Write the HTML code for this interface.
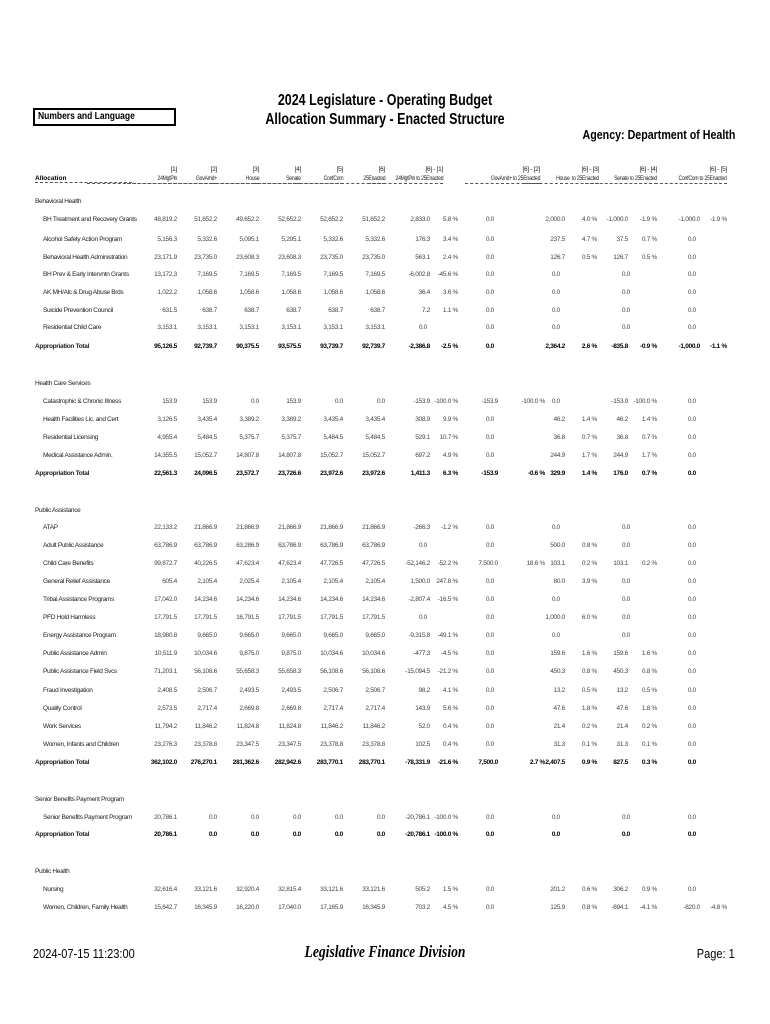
<!DOCTYPE html>
<html><head><meta charset="utf-8"><style>
*{margin:0;padding:0;box-sizing:border-box}
body{width:770px;height:1024px;background:#fff;position:relative;font-family:"Liberation Sans",sans-serif;color:#000;overflow:hidden}
.t{position:absolute;white-space:nowrap}
.ttl{position:absolute;left:0;width:770px;text-align:center;font-weight:bold;font-size:16px;transform:scaleX(.78);}
.r{position:absolute;left:0;width:770px;height:10px;font-size:6.5px;letter-spacing:-.3px;color:#444}
.r span{position:absolute;width:70px;text-align:right;top:0}
.r .n{left:43px;width:auto;text-align:left;color:#222}
.b{font-weight:bold;color:#000!important}
.b span{color:#000}
.b .n{left:35px}
.a1{left:107px}.a2{left:147px}.a3{left:189px}.a4{left:231px}.a5{left:273px}.a6{left:315px}
.d1{left:360px}.z1{left:357px}.p1{left:388px}
.d2{left:428px}.z2{left:424px}.p2{left:475px}
.d3{left:495px}.z3{left:490px}.p3{left:527px}
.d4{left:558px}.z4{left:560px}.p4{left:587px}
.d5{left:630px}.z5{left:626px}.p5{left:657px}
.sec{position:absolute;left:35px;font-size:6.5px;letter-spacing:-.3px;color:#222}
.h{position:absolute;font-size:6.5px;letter-spacing:-.3px;text-align:right;width:90px;color:#222;line-height:9px}
.h b{font-weight:normal;display:inline-block;transform:scaleX(.78);transform-origin:right}
.h i{display:block;font-style:normal;border-bottom:1px dashed #555;white-space:nowrap}
</style></head><body>
<div class="ttl" style="top:92px">2024 Legislature - Operating Budget</div>
<div class="ttl" style="top:111px">Allocation Summary - Enacted Structure</div>
<div class="t" style="left:33px;top:108px;width:143px;height:18px;border:2px solid #000;font-size:10px;font-weight:bold;padding:1px 3px;"><span style="display:inline-block;transform:scaleX(.85);transform-origin:left">Numbers and Language</span></div>
<div class="t" style="right:35px;top:127px;font-size:13px;font-weight:bold;transform:scaleX(.82);transform-origin:right">Agency: Department of Health</div>

<div class="t" style="left:35px;top:175px;width:97px;font-size:6.5px;font-weight:bold;border-bottom:1px dashed #555">Allocation</div>
<div class="h" style="left:87px;top:165px">[1]<i><b>24MgtPln</b></i></div>
<div class="h" style="left:127px;top:165px">[2]<i><b>GovAmd+</b></i></div>
<div class="h" style="left:169px;top:165px">[3]<i><b>House</b></i></div>
<div class="h" style="left:211px;top:165px">[4]<i><b>Senate</b></i></div>
<div class="h" style="left:253px;top:165px">[5]<i><b>ConfCom</b></i></div>
<div class="h" style="left:295px;top:165px">[6]<i><b>25Enacted</b></i></div>
<div class="h" style="left:368px;top:165px;width:75px">[6] - [1]<i><b>24MgtPln to 25Enacted</b></i></div>
<div class="h" style="left:465px;top:165px;width:75px">[6] - [2]<i><b>GovAmd+ to 25Enacted</b></i></div>
<div class="h" style="left:524px;top:165px;width:75px">[6] - [3]<i><b>House&nbsp; to 25Enacted</b></i></div>
<div class="h" style="left:585px;top:165px;width:72px">[6] - [4]<i><b>Senate to 25Enacted</b></i></div>
<div class="h" style="left:655px;top:165px;width:72px">[6] - [5]<i><b>ConfCom to 25Enacted</b></i></div>

<div class="sec" style="top:198px">Behavioral Health</div>
<div class="r" style="top:216px"><span class="n">BH Treatment and Recovery Grants</span><span class="a1">48,819.2</span><span class="a2">51,652.2</span><span class="a3">49,652.2</span><span class="a4">52,652.2</span><span class="a5">52,652.2</span><span class="a6">51,652.2</span><span class="d1">2,833.0</span><span class="p1">5.8 %</span><span class="z2">0.0</span><span class="d3">2,000.0</span><span class="p3">4.0 %</span><span class="d4">-1,000.0</span><span class="p4">-1.9 %</span><span class="d5">-1,000.0</span><span class="p5">-1.9 %</span></div>
<div class="r" style="top:236px"><span class="n">Alcohol Safety Action Program</span><span class="a1">5,156.3</span><span class="a2">5,332.6</span><span class="a3">5,095.1</span><span class="a4">5,295.1</span><span class="a5">5,332.6</span><span class="a6">5,332.6</span><span class="d1">176.3</span><span class="p1">3.4 %</span><span class="z2">0.0</span><span class="d3">237.5</span><span class="p3">4.7 %</span><span class="d4">37.5</span><span class="p4">0.7 %</span><span class="z5">0.0</span></div>
<div class="r" style="top:254px"><span class="n">Behavioral Health Administration</span><span class="a1">23,171.9</span><span class="a2">23,735.0</span><span class="a3">23,608.3</span><span class="a4">23,608.3</span><span class="a5">23,735.0</span><span class="a6">23,735.0</span><span class="d1">563.1</span><span class="p1">2.4 %</span><span class="z2">0.0</span><span class="d3">126.7</span><span class="p3">0.5 %</span><span class="d4">126.7</span><span class="p4">0.5 %</span><span class="z5">0.0</span></div>
<div class="r" style="top:271px"><span class="n">BH Prev &amp; Early Intervntn Grants</span><span class="a1">13,172.3</span><span class="a2">7,169.5</span><span class="a3">7,169.5</span><span class="a4">7,169.5</span><span class="a5">7,169.5</span><span class="a6">7,169.5</span><span class="d1">-6,002.8</span><span class="p1">-45.6 %</span><span class="z2">0.0</span><span class="z3">0.0</span><span class="z4">0.0</span><span class="z5">0.0</span></div>
<div class="r" style="top:289px"><span class="n">AK MH/Alc &amp; Drug Abuse Brds</span><span class="a1">1,022.2</span><span class="a2">1,058.6</span><span class="a3">1,058.6</span><span class="a4">1,058.6</span><span class="a5">1,058.6</span><span class="a6">1,058.6</span><span class="d1">36.4</span><span class="p1">3.6 %</span><span class="z2">0.0</span><span class="z3">0.0</span><span class="z4">0.0</span><span class="z5">0.0</span></div>
<div class="r" style="top:307px"><span class="n">Suicide Prevention Council</span><span class="a1">631.5</span><span class="a2">638.7</span><span class="a3">638.7</span><span class="a4">638.7</span><span class="a5">638.7</span><span class="a6">638.7</span><span class="d1">7.2</span><span class="p1">1.1 %</span><span class="z2">0.0</span><span class="z3">0.0</span><span class="z4">0.0</span><span class="z5">0.0</span></div>
<div class="r" style="top:324px"><span class="n">Residential Child Care</span><span class="a1">3,153.1</span><span class="a2">3,153.1</span><span class="a3">3,153.1</span><span class="a4">3,153.1</span><span class="a5">3,153.1</span><span class="a6">3,153.1</span><span class="z1">0.0</span><span class="z2">0.0</span><span class="z3">0.0</span><span class="z4">0.0</span><span class="z5">0.0</span></div>
<div class="r b" style="top:343px"><span class="n">Appropriation Total</span><span class="a1">95,126.5</span><span class="a2">92,739.7</span><span class="a3">90,375.5</span><span class="a4">93,575.5</span><span class="a5">93,739.7</span><span class="a6">92,739.7</span><span class="d1">-2,386.8</span><span class="p1">-2.5 %</span><span class="z2">0.0</span><span class="d3">2,364.2</span><span class="p3">2.6 %</span><span class="d4">-835.8</span><span class="p4">-0.9 %</span><span class="d5">-1,000.0</span><span class="p5">-1.1 %</span></div>

<div class="sec" style="top:380px">Health Care Services</div>
<div class="r" style="top:398px"><span class="n">Catastrophic &amp; Chronic Illness</span><span class="a1">153.9</span><span class="a2">153.9</span><span class="a3">0.0</span><span class="a4">153.9</span><span class="a5">0.0</span><span class="a6">0.0</span><span class="d1">-153.9</span><span class="p1">-100.0 %</span><span class="d2">-153.9</span><span class="p2">-100.0 %</span><span class="z3">0.0</span><span class="d4">-153.9</span><span class="p4">-100.0 %</span><span class="z5">0.0</span></div>
<div class="r" style="top:416px"><span class="n">Health Facilities Lic. and Cert</span><span class="a1">3,126.5</span><span class="a2">3,435.4</span><span class="a3">3,389.2</span><span class="a4">3,389.2</span><span class="a5">3,435.4</span><span class="a6">3,435.4</span><span class="d1">308.9</span><span class="p1">9.9 %</span><span class="z2">0.0</span><span class="d3">46.2</span><span class="p3">1.4 %</span><span class="d4">46.2</span><span class="p4">1.4 %</span><span class="z5">0.0</span></div>
<div class="r" style="top:434px"><span class="n">Residential Licensing</span><span class="a1">4,955.4</span><span class="a2">5,484.5</span><span class="a3">5,375.7</span><span class="a4">5,375.7</span><span class="a5">5,484.5</span><span class="a6">5,484.5</span><span class="d1">529.1</span><span class="p1">10.7 %</span><span class="z2">0.0</span><span class="d3">36.8</span><span class="p3">0.7 %</span><span class="d4">36.8</span><span class="p4">0.7 %</span><span class="z5">0.0</span></div>
<div class="r" style="top:452px"><span class="n">Medical Assistance Admin.</span><span class="a1">14,355.5</span><span class="a2">15,052.7</span><span class="a3">14,807.8</span><span class="a4">14,807.8</span><span class="a5">15,052.7</span><span class="a6">15,052.7</span><span class="d1">697.2</span><span class="p1">4.9 %</span><span class="z2">0.0</span><span class="d3">244.9</span><span class="p3">1.7 %</span><span class="d4">244.9</span><span class="p4">1.7 %</span><span class="z5">0.0</span></div>
<div class="r b" style="top:470px"><span class="n">Appropriation Total</span><span class="a1">22,561.3</span><span class="a2">24,096.5</span><span class="a3">23,572.7</span><span class="a4">23,726.6</span><span class="a5">23,972.6</span><span class="a6">23,972.6</span><span class="d1">1,411.3</span><span class="p1">6.3 %</span><span class="d2">-153.9</span><span class="p2">-0.6 %</span><span class="d3">329.9</span><span class="p3">1.4 %</span><span class="d4">176.0</span><span class="p4">0.7 %</span><span class="z5">0.0</span></div>

<div class="sec" style="top:507px">Public Assistance</div>
<div class="r" style="top:524px"><span class="n">ATAP</span><span class="a1">22,133.2</span><span class="a2">21,866.9</span><span class="a3">21,866.9</span><span class="a4">21,866.9</span><span class="a5">21,866.9</span><span class="a6">21,866.9</span><span class="d1">-266.3</span><span class="p1">-1.2 %</span><span class="z2">0.0</span><span class="z3">0.0</span><span class="z4">0.0</span><span class="z5">0.0</span></div>
<div class="r" style="top:542px"><span class="n">Adult Public Assistance</span><span class="a1">63,786.9</span><span class="a2">63,786.9</span><span class="a3">63,286.9</span><span class="a4">63,786.9</span><span class="a5">63,786.9</span><span class="a6">63,786.9</span><span class="z1">0.0</span><span class="z2">0.0</span><span class="d3">500.0</span><span class="p3">0.8 %</span><span class="z4">0.0</span><span class="z5">0.0</span></div>
<div class="r" style="top:560px"><span class="n">Child Care Benefits</span><span class="a1">99,872.7</span><span class="a2">40,226.5</span><span class="a3">47,623.4</span><span class="a4">47,623.4</span><span class="a5">47,726.5</span><span class="a6">47,726.5</span><span class="d1">-52,146.2</span><span class="p1">-52.2 %</span><span class="d2">7,500.0</span><span class="p2">18.6 %</span><span class="d3">103.1</span><span class="p3">0.2 %</span><span class="d4">103.1</span><span class="p4">0.2 %</span><span class="z5">0.0</span></div>
<div class="r" style="top:578px"><span class="n">General Relief Assistance</span><span class="a1">605.4</span><span class="a2">2,105.4</span><span class="a3">2,025.4</span><span class="a4">2,105.4</span><span class="a5">2,105.4</span><span class="a6">2,105.4</span><span class="d1">1,500.0</span><span class="p1">247.8 %</span><span class="z2">0.0</span><span class="d3">80.0</span><span class="p3">3.9 %</span><span class="z4">0.0</span><span class="z5">0.0</span></div>
<div class="r" style="top:596px"><span class="n">Tribal Assistance Programs</span><span class="a1">17,042.0</span><span class="a2">14,234.6</span><span class="a3">14,234.6</span><span class="a4">14,234.6</span><span class="a5">14,234.6</span><span class="a6">14,234.6</span><span class="d1">-2,807.4</span><span class="p1">-16.5 %</span><span class="z2">0.0</span><span class="z3">0.0</span><span class="z4">0.0</span><span class="z5">0.0</span></div>
<div class="r" style="top:614px"><span class="n">PFD Hold Harmless</span><span class="a1">17,791.5</span><span class="a2">17,791.5</span><span class="a3">16,791.5</span><span class="a4">17,791.5</span><span class="a5">17,791.5</span><span class="a6">17,791.5</span><span class="z1">0.0</span><span class="z2">0.0</span><span class="d3">1,000.0</span><span class="p3">6.0 %</span><span class="z4">0.0</span><span class="z5">0.0</span></div>
<div class="r" style="top:632px"><span class="n">Energy Assistance Program</span><span class="a1">18,980.8</span><span class="a2">9,665.0</span><span class="a3">9,665.0</span><span class="a4">9,665.0</span><span class="a5">9,665.0</span><span class="a6">9,665.0</span><span class="d1">-9,315.8</span><span class="p1">-49.1 %</span><span class="z2">0.0</span><span class="z3">0.0</span><span class="z4">0.0</span><span class="z5">0.0</span></div>
<div class="r" style="top:650px"><span class="n">Public Assistance Admin</span><span class="a1">10,511.9</span><span class="a2">10,034.6</span><span class="a3">9,875.0</span><span class="a4">9,875.0</span><span class="a5">10,034.6</span><span class="a6">10,034.6</span><span class="d1">-477.3</span><span class="p1">-4.5 %</span><span class="z2">0.0</span><span class="d3">159.6</span><span class="p3">1.6 %</span><span class="d4">159.6</span><span class="p4">1.6 %</span><span class="z5">0.0</span></div>
<div class="r" style="top:668px"><span class="n">Public Assistance Field Svcs</span><span class="a1">71,203.1</span><span class="a2">56,108.6</span><span class="a3">55,658.3</span><span class="a4">55,658.3</span><span class="a5">56,108.6</span><span class="a6">56,108.6</span><span class="d1">-15,094.5</span><span class="p1">-21.2 %</span><span class="z2">0.0</span><span class="d3">450.3</span><span class="p3">0.8 %</span><span class="d4">450.3</span><span class="p4">0.8 %</span><span class="z5">0.0</span></div>
<div class="r" style="top:687px"><span class="n">Fraud Investigation</span><span class="a1">2,408.5</span><span class="a2">2,506.7</span><span class="a3">2,493.5</span><span class="a4">2,493.5</span><span class="a5">2,506.7</span><span class="a6">2,506.7</span><span class="d1">98.2</span><span class="p1">4.1 %</span><span class="z2">0.0</span><span class="d3">13.2</span><span class="p3">0.5 %</span><span class="d4">13.2</span><span class="p4">0.5 %</span><span class="z5">0.0</span></div>
<div class="r" style="top:705px"><span class="n">Quality Control</span><span class="a1">2,573.5</span><span class="a2">2,717.4</span><span class="a3">2,669.8</span><span class="a4">2,669.8</span><span class="a5">2,717.4</span><span class="a6">2,717.4</span><span class="d1">143.9</span><span class="p1">5.6 %</span><span class="z2">0.0</span><span class="d3">47.6</span><span class="p3">1.8 %</span><span class="d4">47.6</span><span class="p4">1.8 %</span><span class="z5">0.0</span></div>
<div class="r" style="top:723px"><span class="n">Work Services</span><span class="a1">11,794.2</span><span class="a2">11,846.2</span><span class="a3">11,824.8</span><span class="a4">11,824.8</span><span class="a5">11,846.2</span><span class="a6">11,846.2</span><span class="d1">52.0</span><span class="p1">0.4 %</span><span class="z2">0.0</span><span class="d3">21.4</span><span class="p3">0.2 %</span><span class="d4">21.4</span><span class="p4">0.2 %</span><span class="z5">0.0</span></div>
<div class="r" style="top:741px"><span class="n">Women, Infants and Children</span><span class="a1">23,276.3</span><span class="a2">23,378.8</span><span class="a3">23,347.5</span><span class="a4">23,347.5</span><span class="a5">23,378.8</span><span class="a6">23,378.8</span><span class="d1">102.5</span><span class="p1">0.4 %</span><span class="z2">0.0</span><span class="d3">31.3</span><span class="p3">0.1 %</span><span class="d4">31.3</span><span class="p4">0.1 %</span><span class="z5">0.0</span></div>
<div class="r b" style="top:759px"><span class="n">Appropriation Total</span><span class="a1">362,102.0</span><span class="a2">276,270.1</span><span class="a3">281,362.6</span><span class="a4">282,942.6</span><span class="a5">283,770.1</span><span class="a6">283,770.1</span><span class="d1">-78,331.9</span><span class="p1">-21.6 %</span><span class="d2">7,500.0</span><span class="p2">2.7 %</span><span class="d3">2,407.5</span><span class="p3">0.9 %</span><span class="d4">827.5</span><span class="p4">0.3 %</span><span class="z5">0.0</span></div>

<div class="sec" style="top:796px">Senior Benefits Payment Program</div>
<div class="r" style="top:814px"><span class="n">Senior Benefits Payment Program</span><span class="a1">20,786.1</span><span class="a2">0.0</span><span class="a3">0.0</span><span class="a4">0.0</span><span class="a5">0.0</span><span class="a6">0.0</span><span class="d1">-20,786.1</span><span class="p1">-100.0 %</span><span class="z2">0.0</span><span class="z3">0.0</span><span class="z4">0.0</span><span class="z5">0.0</span></div>
<div class="r b" style="top:831px"><span class="n">Appropriation Total</span><span class="a1">20,786.1</span><span class="a2">0.0</span><span class="a3">0.0</span><span class="a4">0.0</span><span class="a5">0.0</span><span class="a6">0.0</span><span class="d1">-20,786.1</span><span class="p1">-100.0 %</span><span class="z2">0.0</span><span class="z3">0.0</span><span class="z4">0.0</span><span class="z5">0.0</span></div>

<div class="sec" style="top:868px">Public Health</div>
<div class="r" style="top:886px"><span class="n">Nursing</span><span class="a1">32,616.4</span><span class="a2">33,121.6</span><span class="a3">32,920.4</span><span class="a4">32,815.4</span><span class="a5">33,121.6</span><span class="a6">33,121.6</span><span class="d1">505.2</span><span class="p1">1.5 %</span><span class="z2">0.0</span><span class="d3">201.2</span><span class="p3">0.6 %</span><span class="d4">306.2</span><span class="p4">0.9 %</span><span class="z5">0.0</span></div>
<div class="r" style="top:904px"><span class="n">Women, Children, Family Health</span><span class="a1">15,642.7</span><span class="a2">16,345.9</span><span class="a3">16,220.0</span><span class="a4">17,040.0</span><span class="a5">17,165.9</span><span class="a6">16,345.9</span><span class="d1">703.2</span><span class="p1">4.5 %</span><span class="z2">0.0</span><span class="d3">125.9</span><span class="p3">0.8 %</span><span class="d4">-694.1</span><span class="p4">-4.1 %</span><span class="d5">-820.0</span><span class="p5">-4.8 %</span></div>

<div class="t" style="left:33px;top:946px;font-size:13px;transform:scaleX(.85);transform-origin:left">2024-07-15 11:23:00</div>
<div class="t" style="left:0;width:770px;text-align:center;top:942px;font-size:17px;font-style:italic;font-weight:bold;font-family:'Liberation Serif',serif;transform:scaleX(.8)">Legislative Finance Division</div>
<div class="t" style="right:35px;top:946px;font-size:13px;transform:scaleX(.85);transform-origin:right">Page: 1</div>
</body></html>
